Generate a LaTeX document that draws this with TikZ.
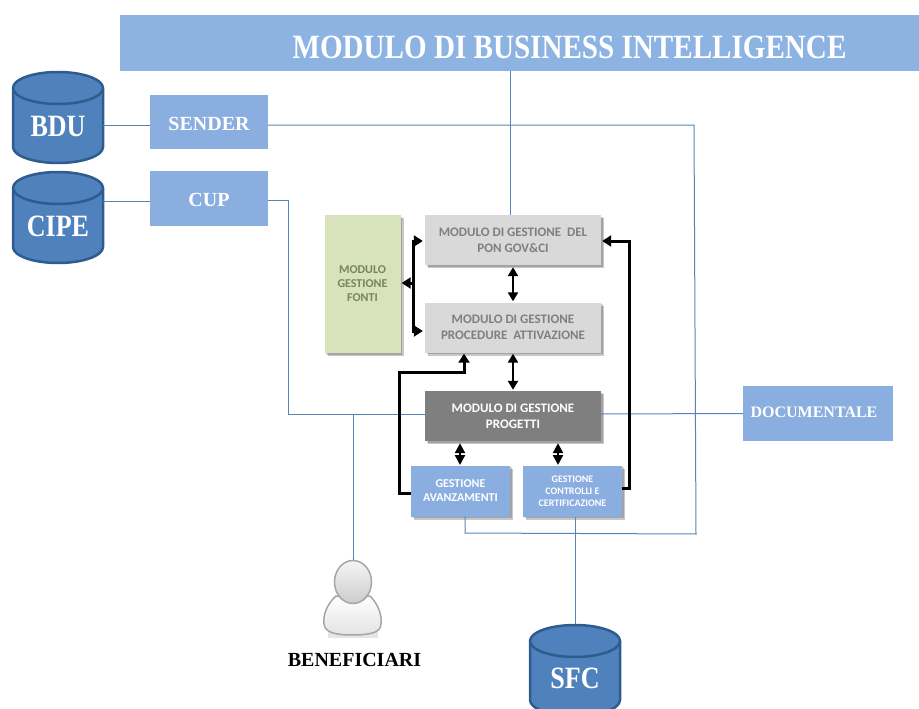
\documentclass[tikz,border=0pt]{standalone}
\usepackage{fontspec}
\usepackage{graphicx}
\setmainfont{Liberation Serif}
\newfontfamily\calib{Carlito}
\usetikzlibrary{arrows.meta,shadows,calc}
\definecolor{hdr}{HTML}{8DB3E2}
\definecolor{boxb}{HTML}{8AAEE0}
\definecolor{cylf}{HTML}{4F81BD}
\definecolor{cyld}{HTML}{2F5C8F}
\definecolor{wire}{HTML}{5585B5}
\definecolor{gbox}{HTML}{D9D9D9}
\definecolor{gtxt}{HTML}{7F7F7F}
\definecolor{dbox}{HTML}{7F7F7F}
\definecolor{gnbox}{HTML}{D8E3BC}
\definecolor{gntxt}{HTML}{76855F}
\tikzset{
  shad/.style={drop shadow={shadow xshift=1.5pt,shadow yshift=-1.5pt,fill=black,opacity=.18},
               drop shadow={shadow xshift=3pt,shadow yshift=-3pt,fill=black,opacity=.22}},
  sbox/.style={fill=boxb,text=white,font=\bfseries\fontsize{20}{22}\selectfont,inner sep=0pt,align=center},
  modbox/.style={shad,fill=gbox,text=gtxt,font=\calib\bfseries\fontsize{13}{16}\selectfont,inner sep=0pt,align=center,minimum width=176pt,minimum height=50pt},
  wirel/.style={draw=wire,line width=1pt},
  thick arrow/.style={draw=black,line width=3pt},
  dbl/.style={draw=black,line width=2.3pt,{Triangle[length=9pt,width=10pt]}-{Triangle[length=9pt,width=10pt]}},
  dblshort/.style={draw=black,line width=2.3pt,{Triangle[length=10pt,width=10pt]}-{Triangle[length=10pt,width=10pt]}},
  sgl/.style={draw=black,line width=3pt,-{Triangle[length=9pt,width=11pt]}},
  dblabel/.style={text=white,font=\bfseries\fontsize{31}{33}\selectfont,inner sep=0pt},
  dbshape/.style={fill=cylf,draw=cyld,line width=2.5pt},
}
\newcommand{\dbcyl}[5]{% name, cx, top y, label, label y
  \coordinate (#1-top) at (#2,#3);
  \draw[dbshape] (#2-45,#3+17) -- (#2-45,#3+76) arc[start angle=180,end angle=360,x radius=45,y radius=-16] -- (#2+45,#3+17)
     arc[start angle=0,end angle=180,x radius=45,y radius=-16] -- cycle;
  \draw[dbshape] (#2-45,#3+17) arc[start angle=180,end angle=360,x radius=45,y radius=-16];
  \coordinate (#1-east) at (#2+45,#3+54);
  \node[dblabel] (#1) at (#2,#5) {\scalebox{.84}[1]{#4}};
}
\begin{document}
\begin{tikzpicture}[x=1pt,y=-1pt]
\useasboundingbox (0,0) rectangle (919,709);
\clip (0,0) rectangle (919,709);

% header
\node[fill=hdr,minimum width=799pt,minimum height=56pt,inner sep=0pt] (header) at (519.5,43) {};
\node[text=white,font=\bfseries\fontsize{34}{35}\selectfont,inner sep=0pt,anchor=base] (title) at (569.5,59) {\scalebox{.856}[1]{MODULO DI BUSINESS INTELLIGENCE}};

% boxes
\node[sbox,minimum width=118pt,minimum height=54pt] (sender) at (209,122) {\raisebox{-8.6pt}[0pt][0pt]{SENDER}};
\node[sbox,minimum width=118pt,minimum height=55pt] (cup) at (209,198.5) {\raisebox{-8.1pt}[0pt][0pt]{CUP}};
\node[sbox,minimum width=150pt,minimum height=55pt,font=\bfseries\fontsize{16}{19}\selectfont] (doc) at (818,413.5) {\kern-8pt\raisebox{-3.8pt}[0pt][0pt]{DOCUMENTALE}};

\dbcyl{bdu}{58}{71}{BDU}{126}
\dbcyl{cipe}{58}{171}{CIPE}{226}
\dbcyl{sfc}{575}{624}{SFC}{678}

% person
\coordinate (personhead) at (353,560);
\begin{scope}
  \fill[black,opacity=.10] (328,632) rectangle (378,638);
  \draw[draw=gray!70,line width=1.5pt,top color=white,bottom color=gray!22]
    (336,596) .. controls (326,605) and (323,616) .. (324,624)
    .. controls (325,632) and (334,635) .. (352,635)
    .. controls (372,635) and (381,632) .. (381,624)
    .. controls (382,616) and (379,605) .. (370,596) -- cycle;
  \draw[draw=gray!70,line width=1.5pt,top color=gray!8,bottom color=gray!40]
    (353,582) ellipse[x radius=18.5,y radius=21.5];
\end{scope}
\node[text=black,font=\bfseries\fontsize{20}{22}\selectfont,inner sep=0pt] (benef) at (354.5,660) {BENEFICIARI};

% modules
\node[modbox] (gdel) at (513,240) {MODULO DI GESTIONE \ DEL\\PON GOV\&CI};
\node[modbox] (proc) at (513,327.5) {MODULO DI GESTIONE\\PROCEDURE \ ATTIVAZIONE};
\node[modbox,fill=dbox,text=white] (prog) at (513,416) {MODULO DI GESTIONE\\PROGETTI};
\node[shad,fill=gnbox,text=gntxt,font=\calib\bfseries\fontsize{12}{14}\selectfont,inner sep=0pt,align=center,minimum width=76pt,minimum height=138pt] (fonti) at (362.5,284) {MODULO\\GESTIONE\\FONTI};
\node[shad,fill=boxb,text=white,font=\calib\bfseries\fontsize{12}{14}\selectfont,inner sep=0pt,align=center,minimum width=99pt,minimum height=51pt] (avanz) at (460.5,491) {GESTIONE\\AVANZAMENTI};
\node[shad,fill=boxb,text=white,font=\calib\bfseries\fontsize{10}{12}\selectfont,inner sep=0pt,align=center,minimum width=99pt,minimum height=51pt] (contr) at (572.5,491) {GESTIONE\\CONTROLLI E\\CERTIFICAZIONE};

% thin connectors
\coordinate (senderturn) at (694,125);
\coordinate (lowturn) at (696,534);
\coordinate (lowend) at (465,533);
\coordinate (cupturn) at (288,200);
\coordinate (cupdown) at (288,414);
\coordinate (benefjoin) at (353,414);
\draw[wirel] ([xshift=-3pt]gdel.north) -- ([xshift=-3pt]gdel.north |- header.south);
\draw[wirel] ([yshift=-3pt]bdu-east |- sender.west) -- ([yshift=-3pt]sender.west);
\draw[wirel] ([yshift=-3pt]sender.east) -- (senderturn) -- (lowturn) -- (lowend) -- (lowend |- avanz.south);
\draw[wirel] ([yshift=-2.5pt]cipe-east |- cup.west) -- ([yshift=-2.5pt]cup.west);
\draw[wirel] ([yshift=-1.5pt]cup.east) -- (cupturn) -- (cupdown) -- ([yshift=2pt]prog.west);
\draw[wirel] (benefjoin) -- (personhead);
\draw[wirel] ([yshift=2pt]prog.east) -- (doc.west);
\draw[wirel] ([xshift=2.5pt]contr.south) -- ([xshift=2.5pt]contr.south |- sfc-top);

% thick connectors
\coordinate (avarrow) at (460,466);
\coordinate (ctarrow) at (558,466);
\draw[dbl] ([yshift=-2pt]gdel.south) -- ([yshift=1pt]proc.north);
\draw[dbl] ([yshift=-1pt]proc.south) -- ([yshift=1pt]prog.north);
\draw[dblshort] ([yshift=-2pt]prog.south -| avarrow) -- ([yshift=1pt]avarrow);
\draw[dblshort] ([yshift=-2pt]prog.south -| ctarrow) -- ([yshift=1pt]ctarrow);
\coordinate (busT) at (413,241);
\coordinate (busB) at (413,331);
\coordinate (busM) at (413,283);
\coordinate (a1) at (399,493);
\coordinate (a2) at (399,372);
\coordinate (a3) at (464,372);
\coordinate (c1) at (629,488);
\coordinate (c2) at (629,241);
\draw[thick arrow,line cap=rect] (busT) -- (busB);
\draw[sgl] (busT) -- ([xshift=-2pt]busT -| gdel.west);
\draw[sgl] (busB) -- ([xshift=-2pt]busB -| proc.west);
\draw[sgl] (busM) -- ([xshift=1pt]busM -| fonti.east);
\draw[sgl] (a1 -| avanz.west) -- (a1) -- (a2) -- (a3) -- ([yshift=-1pt]a3 |- proc.south);
\draw[sgl] (c1 -| contr.east) -- (c1) -- (c2) -- ([xshift=1pt]c2 -| gdel.east);
\end{tikzpicture}
\end{document}
